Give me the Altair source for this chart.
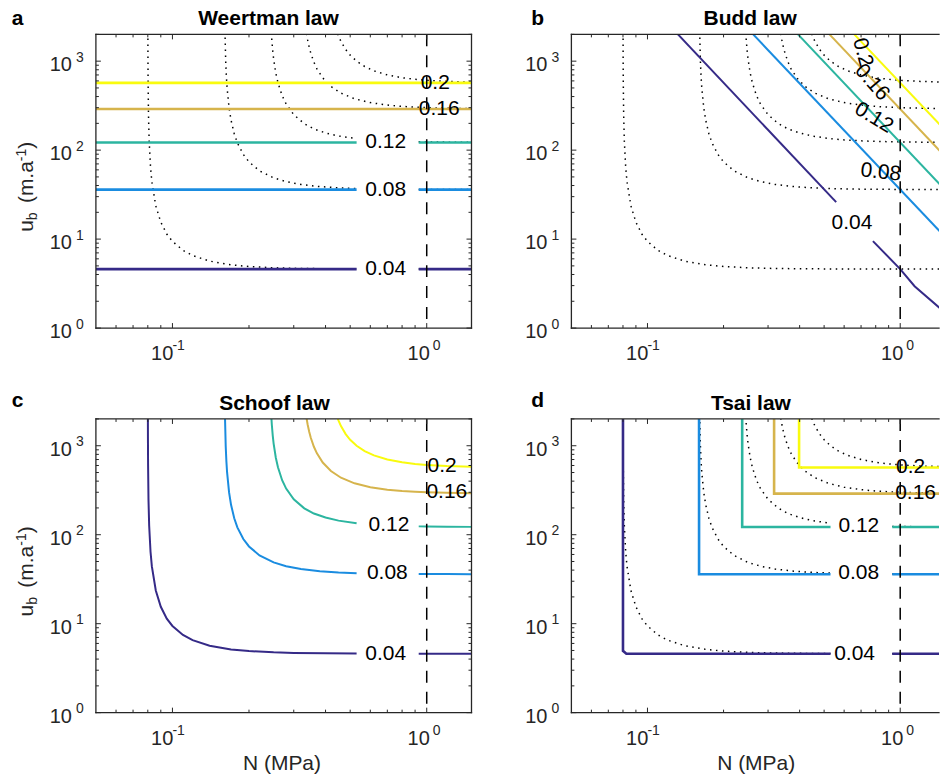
import altair as alt
import pandas as pd

FONT = "Liberation Sans"
INK = "#262626"

# ---------------- data ----------------
LEVELS = ["0.04", "0.08", "0.12", "0.16", "0.2"]
LEVEL_COLORS = ["#352a87", "#1a8ce0", "#2cb5a0", "#d6b44c", "#f9fb0e"]

PANEL_TITLES = ["Weertman law", "Budd law", "Schoof law", "Tsai law"]
PANEL_LETTERS = ["a", "b", "c", "d"]
X_TITLE = "N (MPa)"
Y_TITLE_PARTS = ["u", "b", "(m.a", "-1", ")"]

X_MAJOR = [0.1, 1.0]
X_MAJOR_BASE = ["10", "10"]
X_MAJOR_EXP = ["-1", "0"]
X_MINOR = [0.06, 0.07, 0.08, 0.09, 0.2, 0.3, 0.4, 0.5, 0.6, 0.7, 0.8, 0.9]
Y_MAJOR = [1, 10, 100, 1000]
Y_MAJOR_BASE = ["10", "10", "10", "10"]
Y_MAJOR_EXP = ["0", "1", "2", "3"]
Y_MINOR = [2, 3, 4, 5, 6, 7, 8, 9, 20, 30, 40, 50, 60, 70, 80, 90,
           200, 300, 400, 500, 600, 700, 800, 900, 2000]
N_REFERENCE = [1.0]

# Weertman: contours are horizontal lines at these u_b values
WEERTMAN_U = [4.6, 36, 122, 290, 570]
# N range left open for the inline labels of the three lower contours
LABEL_GAP_N = [0.53, 0.93]

# Schoof contours (also drawn dotted in panels a, b, d)
SCHOOF_004_N = [0.08005, 0.0801, 0.0802, 0.0805, 0.081, 0.082, 0.083, 0.086, 0.09, 0.095,
                0.1, 0.11, 0.12, 0.14, 0.17, 0.2, 0.25, 0.3, 0.4, 0.53, 0.7, 0.93, 1.0, 1.2, 1.5]
SCHOOF_004_U = [2450, 1230, 616, 248, 126, 64.4, 44.0, 23.6, 15.5, 11.4,
                9.43, 7.48, 6.54, 5.66, 5.14, 4.92, 4.76, 4.69, 4.64, 4.62, 4.61, 4.60, 4.60, 4.60, 4.60]
SCHOOF_008_N = [0.1609, 0.162, 0.163, 0.164, 0.167, 0.17, 0.175, 0.18, 0.19, 0.2, 0.22, 0.25,
                0.28, 0.32, 0.38, 0.45, 0.53, 0.6, 0.7, 0.8, 0.93, 1.0, 1.2, 1.5]
SCHOOF_008_U = [2157, 984, 664, 504, 299, 217, 153, 121, 89.4, 73.8, 58.5, 48.8,
                44.3, 41.1, 38.9, 37.7, 37.0, 36.7, 36.4, 36.3, 36.2, 36.15, 36.1, 36.0]
SCHOOF_012_N = [0.2449, 0.246, 0.248, 0.25, 0.255, 0.26, 0.27, 0.28, 0.3, 0.33, 0.36, 0.4,
                0.45, 0.53, 0.6, 0.7, 0.8, 0.93, 1.0, 1.2, 1.5]
SCHOOF_012_U = [2100, 1709, 1302, 1058, 734, 572, 410, 330, 250, 198, 173, 156,
                144, 134.5, 130.3, 127.1, 125.4, 124.1, 123.7, 123.0, 122.5]
SCHOOF_016_N = [0.3368, 0.34, 0.345, 0.35, 0.36, 0.37, 0.39, 0.42, 0.46, 0.52, 0.6, 0.7,
                0.8, 0.9, 1.0, 1.2, 1.5]
SCHOOF_016_U = [2040, 1744, 1435, 1230, 974, 821, 648, 520, 437, 378, 342, 321,
                310, 304, 300, 296, 293]
SCHOOF_020_N = [0.4468, 0.45, 0.46, 0.48, 0.5, 0.53, 0.57, 0.62, 0.7, 0.8, 0.9, 1.0, 1.2, 1.5]
SCHOOF_020_U = [2030, 1915, 1664, 1353, 1168, 1000, 871, 779, 701, 651, 625, 609, 592, 581]

# Budd contours (straight lines in log-log)
BUDD_004_N = [0.132, 0.558, 0.78, 1.0, 1.14, 1.5]
BUDD_004_U = [2000, 26, 9.5, 4.6, 2.95, 1.5]
BUDD_004_GAP_N = [0.56, 0.77]
BUDD_TOP_N = [0.262, 0.394, 0.525, 0.658]      # levels 0.08 .. 0.2, u_b = 2000
BUDD_RIGHT_U = [10.7, 36.1, 85.9, 169]         # levels 0.08 .. 0.2, N = 1.5

# Tsai contours (L-shaped)
TSAI_004_N = [0.08, 0.08, 0.0825, 0.53, 0.93, 1.5]
TSAI_004_U = [2100, 4.95, 4.6, 4.6, 4.6, 4.6]
TSAI_CORNER_N = [0.08, 0.16, 0.237, 0.317, 0.398]

# inline contour labels
LABEL_A_N = [0.69, 0.69, 0.69, 1.12, 1.08]
LABEL_A_U = [4.6, 36, 122, 290, 570]
LABEL_B_N = [0.644, 0.838, 0.787, 0.773, 0.710]
LABEL_B_U = [15.3, 56, 231, 575, 1254]
LABEL_B_ANGLE = [0, 6, 31, 49, 75]
LABEL_C_N = [0.69, 0.70, 0.71, 1.20, 1.15]
LABEL_C_U = [4.6, 37, 127, 299, 590]
LABEL_D_N = [0.66, 0.685, 0.686, 1.15, 1.10]
LABEL_D_U = [4.6, 37, 124, 294, 572]

SCHOOF = {
    "0.04": (SCHOOF_004_N, SCHOOF_004_U),
    "0.08": (SCHOOF_008_N, SCHOOF_008_U),
    "0.12": (SCHOOF_012_N, SCHOOF_012_U),
    "0.16": (SCHOOF_016_N, SCHOOF_016_U),
    "0.2": (SCHOOF_020_N, SCHOOF_020_U),
}
GAPPED = {"0.04", "0.08", "0.12"}

# ---------------- helpers to build tables ----------------
def rows_from(level, segments):
    out = []
    for s, pts in enumerate(segments):
        for i, (n, u) in enumerate(pts):
            out.append({"level": level, "key": f"{level}|{s}", "i": i, "N": n, "u": u})
    return out


def split(ns, us, gap):
    pts = list(zip(ns, us))
    if gap is None:
        return [pts]
    return [[p for p in pts if p[0] <= gap[0]], [p for p in pts if p[0] >= gap[1]]]


def schoof_df(use_gaps):
    rows = []
    for lev in LEVELS:
        ns, us = SCHOOF[lev]
        g = LABEL_GAP_N if (use_gaps and lev in GAPPED) else None
        rows += rows_from(lev, split(ns, us, g))
    return pd.DataFrame(rows)


def weertman_df():
    rows = []
    for lev, u in zip(LEVELS, WEERTMAN_U):
        ns = [0.05, LABEL_GAP_N[0], LABEL_GAP_N[1], 1.5]
        g = LABEL_GAP_N if lev in GAPPED else None
        rows += rows_from(lev, split(ns, [u] * 4, g))
    return pd.DataFrame(rows)


def budd_df():
    rows = rows_from("0.04", split(BUDD_004_N, BUDD_004_U, BUDD_004_GAP_N))
    for lev, n0, ur in zip(LEVELS[1:], BUDD_TOP_N, BUDD_RIGHT_U):
        rows += rows_from(lev, [[(n0, 2000), (1.5, ur)]])
    return pd.DataFrame(rows)


def tsai_df():
    rows = rows_from("0.04", split(TSAI_004_N, TSAI_004_U, LABEL_GAP_N))
    for lev, n0, u in zip(LEVELS[1:], TSAI_CORNER_N[1:], WEERTMAN_U[1:]):
        ns = [n0, n0, LABEL_GAP_N[0], LABEL_GAP_N[1], 1.5]
        us = [2100, u, u, u, u]
        g = LABEL_GAP_N if lev in GAPPED else None
        rows += rows_from(lev, split(ns, us, g))
    return pd.DataFrame(rows)


def label_df(ns, us):
    return pd.DataFrame({"N": ns, "u": us, "text": LEVELS})


# ---------------- panel construction ----------------
H = 294
W_LEFT = 376
W_RIGHT = 368
ONE = pd.DataFrame({"k": [0]})


def panel(idx):
    right_col = idx in (1, 3)
    bottom_row = idx in (2, 3)
    W = W_RIGHT if right_col else W_LEFT
    xs = alt.Scale(type="log", domain=[0.05, 1.424] if right_col else [0.05, 1.5], nice=False)
    ys = alt.Scale(type="log", domain=[1, 2000], nice=False)

    def X(f):
        return alt.X(f, scale=xs, axis=None)

    def Y(f):
        return alt.Y(f, scale=ys, axis=None)

    color = alt.Color("level:N", scale=alt.Scale(domain=LEVELS, range=LEVEL_COLORS), legend=None)
    layers = []

    # dotted Schoof reference
    if idx in (0, 1, 3):
        d = schoof_df(use_gaps=(idx != 1))
        layers.append(
            alt.Chart(d).mark_line(color="black", strokeWidth=1.5, strokeDash=[1.5, 4.5], clip=True)
            .encode(x=X("N:Q"), y=Y("u:Q"), detail="key:N", order=alt.Order("i:Q"))
        )

    if idx == 0:
        cdf, sw = weertman_df(), 2.6
    elif idx == 1:
        cdf, sw = budd_df(), 2.0
    elif idx == 2:
        cdf, sw = schoof_df(use_gaps=True), 2.0
    else:
        cdf, sw = tsai_df(), 2.6
    layers.append(
        alt.Chart(cdf).mark_line(strokeWidth=sw, clip=True)
        .encode(x=X("N:Q"), y=Y("u:Q"), color=color, detail="key:N", order=alt.Order("i:Q"))
    )

    # dashed reference at N = 1 MPa
    layers.append(
        alt.Chart(pd.DataFrame({"N": N_REFERENCE}))
        .mark_rule(color="black", strokeWidth=1.5, strokeDash=[12, 9])
        .encode(x=X("N:Q"))
    )

    # inward ticks
    for vals, ln in ((X_MAJOR, 5), (X_MINOR, 3)):
        base = alt.Chart(pd.DataFrame({"t": vals})).mark_rule(color=INK, strokeWidth=1)
        layers.append(base.encode(x=X("t:Q"), y=alt.value(H), y2=alt.value(H - ln)))
        layers.append(base.encode(x=X("t:Q"), y=alt.value(0), y2=alt.value(ln)))
    for vals, ln in ((Y_MAJOR, 5), (Y_MINOR, 3)):
        base = alt.Chart(pd.DataFrame({"t": vals})).mark_rule(color=INK, strokeWidth=1)
        layers.append(base.encode(y=Y("t:Q"), x=alt.value(0), x2=alt.value(ln)))
        if not right_col:
            layers.append(base.encode(y=Y("t:Q"), x=alt.value(W), x2=alt.value(W - ln)))

    # frame
    border = alt.Chart(ONE).mark_rule(color=INK, strokeWidth=1.3, strokeCap="square")
    layers.append(border.encode(x=alt.value(0), x2=alt.value(W), y=alt.value(0)))
    layers.append(border.encode(x=alt.value(0), x2=alt.value(W), y=alt.value(H)))
    layers.append(border.encode(x=alt.value(0), y=alt.value(0), y2=alt.value(H)))
    if not right_col:
        layers.append(border.encode(x=alt.value(W), y=alt.value(0), y2=alt.value(H)))

    # tick labels: x
    xoff = [(0.8, 0.0), (3.1, 6.1)]
    for k in range(len(X_MAJOR)):
        dl = pd.DataFrame({"t": [X_MAJOR[k]], "b": [X_MAJOR_BASE[k]], "e": [X_MAJOR_EXP[k]]})
        layers.append(
            alt.Chart(dl).mark_text(align="right", baseline="alphabetic", fontSize=20, font=FONT,
                                    color=INK, dx=xoff[k][0])
            .encode(x=X("t:Q"), y=alt.value(H + 32.3), text="b:N")
        )
        layers.append(
            alt.Chart(dl).mark_text(align="left", baseline="alphabetic", fontSize=14, font=FONT,
                                    color=INK, dx=xoff[k][1])
            .encode(x=X("t:Q"), y=alt.value(H + 22), text="e:N")
        )
    # tick labels: y
    dyl = pd.DataFrame({"t": Y_MAJOR, "b": Y_MAJOR_BASE, "e": Y_MAJOR_EXP})
    layers.append(
        alt.Chart(dyl).mark_text(align="right", baseline="alphabetic", fontSize=20, font=FONT,
                                 color=INK, dy=10)
        .encode(y=Y("t:Q"), x=alt.value(-24), text="b:N")
    )
    layers.append(
        alt.Chart(dyl).mark_text(align="left", baseline="alphabetic", fontSize=14, font=FONT,
                                 color=INK, dy=0.7)
        .encode(y=Y("t:Q"), x=alt.value(-20), text="e:N")
    )

    # contour labels
    if idx == 1:
        for k in range(len(LEVELS)):
            dl = pd.DataFrame({"N": [LABEL_B_N[k]], "u": [LABEL_B_U[k]], "text": [LEVELS[k]]})
            layers.append(
                alt.Chart(dl).mark_text(align="center", baseline="middle", fontSize=21, font=FONT,
                                        color="black", angle=LABEL_B_ANGLE[k])
                .encode(x=X("N:Q"), y=Y("u:Q"), text="text:N")
            )
    else:
        ln, lu = {0: (LABEL_A_N, LABEL_A_U), 2: (LABEL_C_N, LABEL_C_U), 3: (LABEL_D_N, LABEL_D_U)}[idx]
        layers.append(
            alt.Chart(label_df(ln, lu)).mark_text(align="center", baseline="middle", fontSize=21,
                                                  font=FONT, color="black")
            .encode(x=X("N:Q"), y=Y("u:Q"), text="text:N")
        )

    # panel title and letter
    title_x = [172.8, 179.0, 178.8, 179.7][idx]
    letter_x = -84.3 if not right_col else -40.3
    letter_y = -12.3 if bottom_row else -9.3
    layers.append(
        alt.Chart(pd.DataFrame({"t": [PANEL_TITLES[idx]]}))
        .mark_text(align="center", baseline="alphabetic", fontSize=21, fontWeight="bold",
                   font=FONT, color="black")
        .encode(text="t:N", x=alt.value(title_x), y=alt.value(-9.3))
    )
    layers.append(
        alt.Chart(pd.DataFrame({"t": [PANEL_LETTERS[idx]]}))
        .mark_text(align="left", baseline="alphabetic", fontSize=21, fontWeight="bold",
                   font=FONT, color="black")
        .encode(text="t:N", x=alt.value(letter_x), y=alt.value(letter_y))
    )

    # y title (with subscript / superscript)
    if not right_col:
        parts = [(Y_TITLE_PARTS[0], 21, -62.7, 197.7), (Y_TITLE_PARTS[1], 14, -58.5, 186.0),
                 (Y_TITLE_PARTS[2], 21, -62.7, 168.9), (Y_TITLE_PARTS[3], 14, -69.7, 126.9),
                 (Y_TITLE_PARTS[4], 21, -62.7, 114.5)]
        for txt, fs, px, py in parts:
            layers.append(
                alt.Chart(pd.DataFrame({"t": [txt]}))
                .mark_text(align="left", baseline="alphabetic", fontSize=fs, font=FONT,
                           color=INK, angle=270)
                .encode(text="t:N", x=alt.value(px), y=alt.value(py))
            )
    # x title
    if bottom_row:
        layers.append(
            alt.Chart(pd.DataFrame({"t": [X_TITLE]}))
            .mark_text(align="center", baseline="alphabetic", fontSize=21, font=FONT, color=INK)
            .encode(text="t:N", x=alt.value(186.3 if not right_col else 185.0), y=alt.value(H + 57.7))
        )

    return alt.layer(*layers).properties(width=W, height=H)


panels = [panel(i) for i in range(4)]

chart = (
    alt.concat(*panels, columns=2, spacing={"row": 91, "column": 100}, bounds="flush", align="each")
    .resolve_scale(x="independent", y="independent")
    .properties(padding={"left": 11, "top": 7, "right": 0, "bottom": 0})
    .configure_view(strokeWidth=0)
)

chart.save("out.html", embed_options={"renderer": "svg", "actions": False})
